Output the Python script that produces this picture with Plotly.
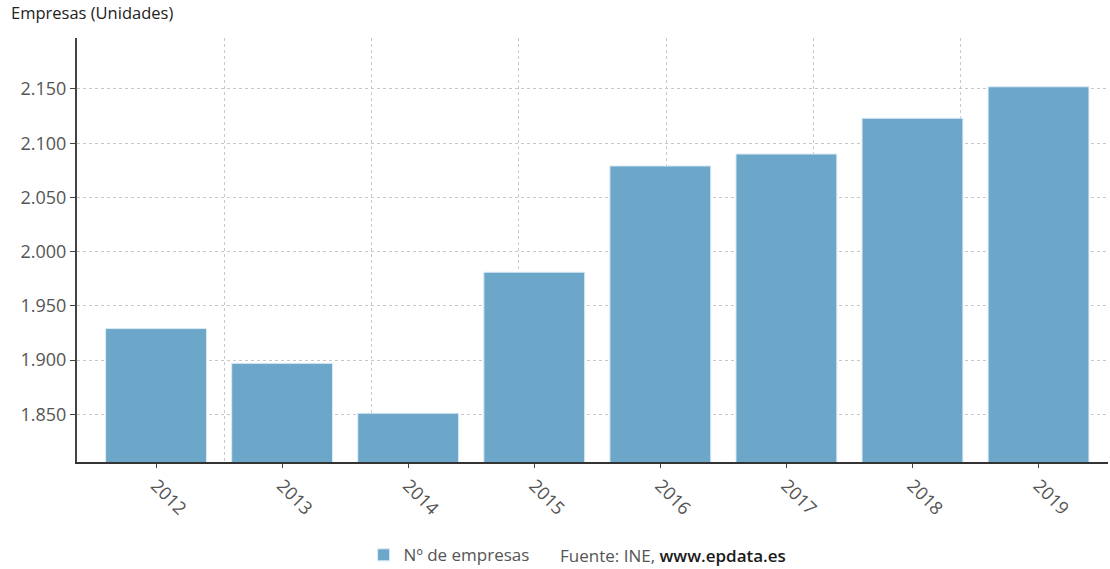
import plotly.graph_objects as go

years = ["2012", "2013", "2014", "2015", "2016", "2017", "2018", "2019"]
empresas = [1929, 1897, 1851, 1981, 2079, 2090, 2123, 2152]
y_ticks = [1850, 1900, 1950, 2000, 2050, 2100, 2150]
series_name = "Nº de empresas"
source_text = "Fuente: INE, <span style='color:#1a1a1a;font-weight:600'>www.epdata.es</span>"
y_title = "Empresas (Unidades)"

FONT = "Open Sans"
BAR = "#6ca6c9"

fig = go.Figure()
fig.add_trace(go.Bar(
    x=years, y=empresas, name=series_name,
    marker=dict(color=BAR, line=dict(color="#dcebf4", width=1)),
    width=0.8,
))
# invisible helper trace for the vertical grid (secondary x axis)
fig.add_trace(go.Scatter(x=[0, 7], y=[y_ticks[0], y_ticks[0]], xaxis="x2",
                         mode="markers", marker=dict(opacity=0),
                         showlegend=False, hoverinfo="skip"))

fig.update_layout(
    width=1110, height=569,
    margin=dict(l=77, r=2, t=38, b=107, autoexpand=False),
    paper_bgcolor="white", plot_bgcolor="white",
    separators=",.",
    font=dict(family=FONT, size=17, color="#555555"),
    bargap=0.2,
    xaxis=dict(
        type="category", range=[-0.627, 7.551], automargin=False,
        showgrid=False, tickangle=45,
        ticks="outside", ticklen=4, tickcolor="#444444",
        showline=True, linecolor="#333333", linewidth=2,
        tickfont=dict(size=18, color="#555555"),
        zeroline=False,
    ),
    xaxis2=dict(
        overlaying="x", range=[0, 7], tickvals=[1, 2, 3, 4, 5, 6],
        showticklabels=False, showgrid=True, gridcolor="#c8c8c8",
        griddash="dot", gridwidth=1, zeroline=False, showline=False,
        ticks="", automargin=False,
    ),
    yaxis=dict(
        range=[1806, 2197], tickvals=y_ticks, tickformat=",.0f",
        automargin=False,
        showgrid=True, gridcolor="#c8c8c8", griddash="dot", gridwidth=1,
        ticks="outside", ticklen=5, tickcolor="#444444",
        showline=True, linecolor="#444444", linewidth=2,
        zeroline=False,
        tickfont=dict(size=18, color="#555555"),
    ),
    legend=dict(
        orientation="h", x=0.278, xanchor="left", y=-0.22, yanchor="middle",
        font=dict(size=17, color="#555555"),
        bgcolor="rgba(0,0,0,0)",
    ),
    annotations=[
        dict(text=y_title, xref="paper", yref="paper", x=-0.066, y=1.06,
             xanchor="left", yanchor="middle", showarrow=False,
             font=dict(size=16.5, color="#222222", family=FONT, weight=500)),
        dict(text=source_text, xref="paper", yref="paper", x=0.467, y=-0.22,
             xanchor="left", yanchor="middle", showarrow=False,
             font=dict(size=17, color="#555555", family=FONT)),
    ],
)

fig.write_html("out.html", config={"displayModeBar": False},
               post_script="document.body.style.margin='0';")
